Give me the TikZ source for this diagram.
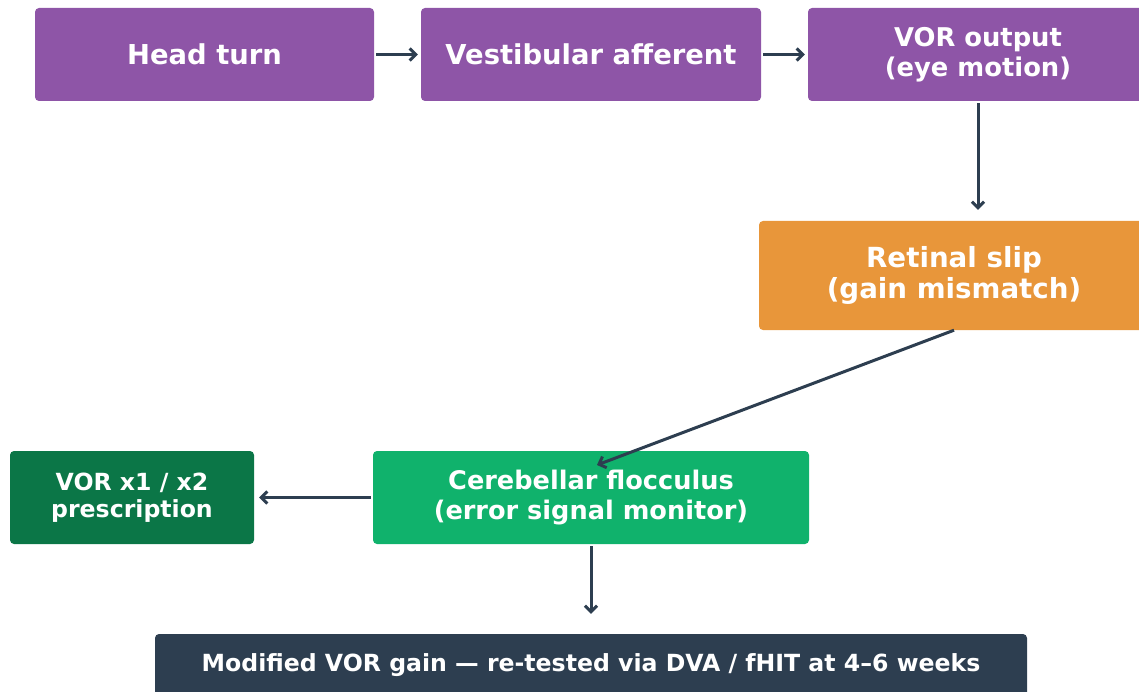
\documentclass[tikz,border=0pt]{standalone}
\usepackage{fontspec}
\setmainfont{DejaVu Sans}
\usepackage{xcolor}
\usepackage{tikz}
\usetikzlibrary{positioning, arrows.meta, calc}
\definecolor{vorpurple}{HTML}{8E55A7}
\definecolor{slipamber}{HTML}{E8963A}
\definecolor{flocgreen}{HTML}{10B26C}
\definecolor{rxgreen}{HTML}{0B7647}
\definecolor{navy}{HTML}{2D3E50}
\tikzset{
  box/.style ={rectangle, rounded corners=4pt, text=white, align=center,
               inner sep=0pt, font=\bfseries},
  flow/.style={line width=3pt, draw=navy, -{Straight Barb[length=6pt,width=12pt,line width=3pt]}}
}

\begin{document}
\begin{tikzpicture}[x=1pt, y=-1pt]
  \useasboundingbox (0,0) rectangle (1139,692);
  \clip (0,0) rectangle (1139,692);

  \node[box, fill=vorpurple, minimum width=339pt, minimum height=93pt,
        font=\bfseries\fontsize{27.4}{31}\selectfont]
        (head) at (204.5,54.5) {Head turn};
  \node[box, fill=vorpurple, minimum width=340pt, minimum height=93pt,
        font=\bfseries\fontsize{27.4}{31}\selectfont]
        (vest) at (591,54.5) {Vestibular afferent};
  \node[box, fill=vorpurple, minimum width=340pt, minimum height=93pt,
        font=\bfseries\fontsize{25.8}{29.5}\selectfont]
        (vor)  at (978,54.5) {VOR output\\(eye motion)};
  \node[box, fill=slipamber, minimum width=390pt, minimum height=109pt,
        font=\bfseries\fontsize{27.7}{31.5}\selectfont]
        (slip) at (954,275.5) {Retinal slip\\(gain mismatch)};
  \node[box, fill=flocgreen, minimum width=436pt, minimum height=93pt,
        font=\bfseries\fontsize{25.6}{29.5}\selectfont]
        (floc) at (591,497.5) {Cerebellar flocculus\\(error signal monitor)};
  \node[box, fill=rxgreen, minimum width=244pt, minimum height=93pt,
        font=\bfseries\fontsize{23.6}{27}\selectfont]
        (rx)   at (132,497.5) {VOR x1 / x2\\prescription};
  \node[box, fill=navy, minimum width=872pt, minimum height=62pt,
        font=\bfseries\fontsize{23.6}{27}\selectfont]
        (gain) at (591,665) {Modified VOR gain — re-tested via DVA / fHIT at 4–6 weeks};

  \coordinate (flocin) at (597,465);

  \draw[flow, shorten <=2pt, shorten >=3pt] (head) -- (vest);
  \draw[flow, shorten <=2pt, shorten >=3pt] (vest) -- (vor);
  \draw[flow, shorten <=2pt, shorten >=11pt] (vor.south) -- (vor.south |- slip.north);
  \draw[flow] (slip.south) -- (flocin);
  \draw[flow, shorten <=2pt, shorten >=5pt] (floc) -- (rx);
  \draw[flow, shorten <=2pt, shorten >=20pt] (floc) -- (gain);
\end{tikzpicture}
\end{document}
